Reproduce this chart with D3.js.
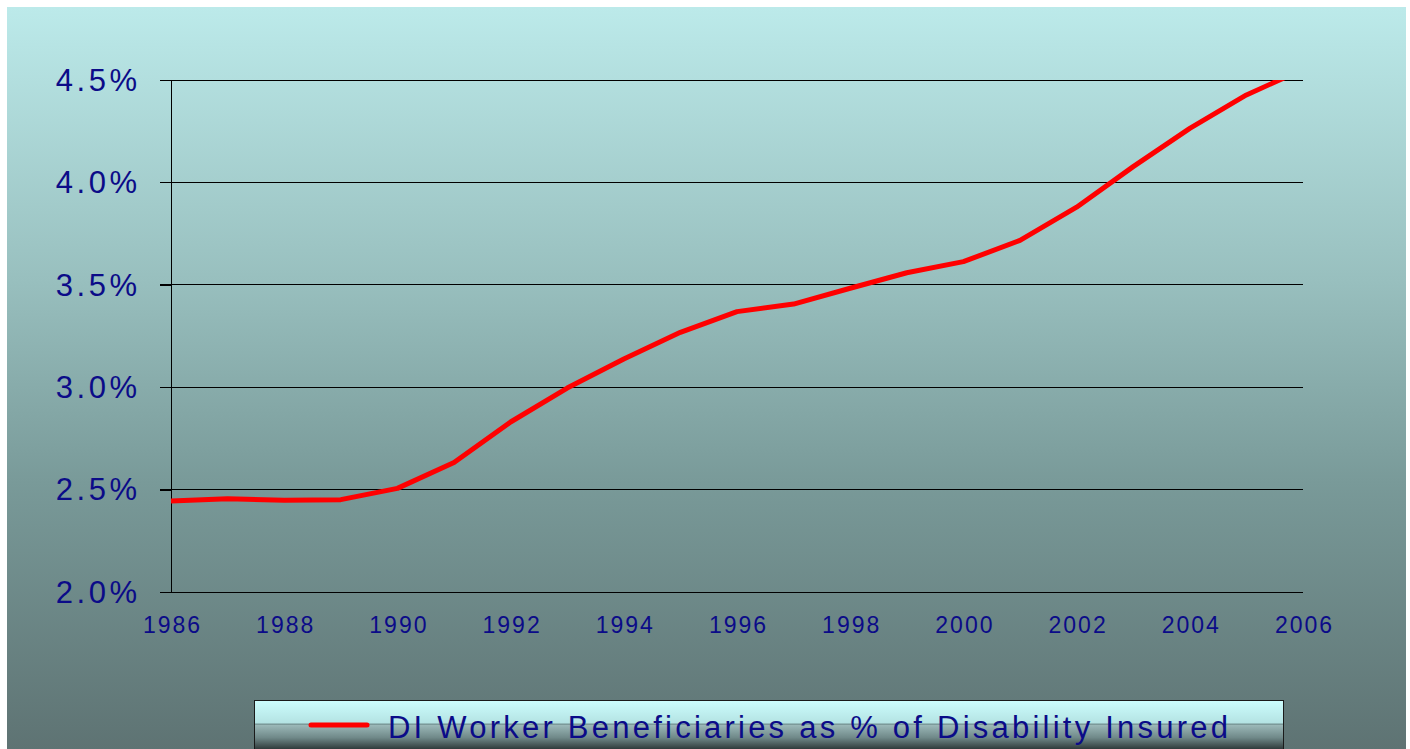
<!DOCTYPE html>
<html>
<head>
<meta charset="utf-8">
<script src="https://cdn.jsdelivr.net/npm/d3@7/dist/d3.min.js"></script>
<style>
  html, body { margin: 0; padding: 0; background: #ffffff; }
  svg { display: block; }
  text { font-family: "Liberation Sans", Arial, sans-serif; }
</style>
</head>
<body>
<svg id="chart" width="1410" height="749"></svg>
<script>
// ---- data ----
const years = [1986, 1987, 1988, 1989, 1990, 1991, 1992, 1993, 1994, 1995, 1996,
               1997, 1998, 1999, 2000, 2001, 2002, 2003, 2004, 2005, 2006];
const diShare = [2.444, 2.455, 2.448, 2.451, 2.506, 2.632, 2.830, 2.996, 3.138, 3.268, 3.369,
                 3.406, 3.483, 3.559, 3.613, 3.717, 3.879, 4.077, 4.264, 4.427, 4.552];
const yTicks = [2.0, 2.5, 3.0, 3.5, 4.0, 4.5];
const xTicks = [1986, 1988, 1990, 1992, 1994, 1996, 1998, 2000, 2002, 2004, 2006];
const seriesName = "DI Worker Beneficiaries as % of Disability Insured";

// ---- layout ----
const svg = d3.select("#chart");
const plot = { left: 171, right: 1303, top: 80, bottom: 592 };
const textColor = "#0b0b88";

const defs = svg.append("defs");
const bg = defs.append("linearGradient").attr("id", "bgGrad")
  .attr("gradientUnits", "userSpaceOnUse").attr("x1", 0).attr("y1", 7).attr("x2", 0).attr("y2", 749);
bg.append("stop").attr("offset", "0").attr("stop-color", "#bceaea");
bg.append("stop").attr("offset", "0.37").attr("stop-color", "#98bfbe");
bg.append("stop").attr("offset", "0.64").attr("stop-color", "#799a99");
bg.append("stop").attr("offset", "1").attr("stop-color", "#5e7373");

const lg = defs.append("linearGradient").attr("id", "legGrad")
  .attr("gradientUnits", "userSpaceOnUse").attr("x1", 0).attr("y1", 701).attr("x2", 0).attr("y2", 750);
lg.append("stop").attr("offset", "0").attr("stop-color", "#ccfdfd");
lg.append("stop").attr("offset", "0.45").attr("stop-color", "#b4e3e3");
lg.append("stop").attr("offset", "0.47").attr("stop-color", "#6e8c8c");
lg.append("stop").attr("offset", "0.50").attr("stop-color", "#9ab7b7");
lg.append("stop").attr("offset", "0.75").attr("stop-color", "#6f8888");
lg.append("stop").attr("offset", "1").attr("stop-color", "#2a3434");

defs.append("clipPath").attr("id", "plotClip").append("rect")
  .attr("x", plot.left).attr("y", plot.top)
  .attr("width", plot.right - plot.left).attr("height", plot.bottom - plot.top);

svg.append("rect").attr("x", 7).attr("y", 7).attr("width", 1399).attr("height", 760)
  .attr("fill", "url(#bgGrad)");

// ---- scales ----
const x = d3.scaleLinear().domain([1986, 2006]).range([plot.left, plot.right]);
const y = d3.scaleLinear().domain([2.0, 4.5]).range([plot.bottom, plot.top]);

// gridlines
svg.append("g").selectAll("line").data(yTicks).join("line")
  .attr("x1", plot.left - 11).attr("x2", plot.right)
  .attr("y1", d => y(d)).attr("y2", d => y(d))
  .attr("stroke", "#000").attr("stroke-width", 1).attr("shape-rendering", "crispEdges");

// y axis
const yAxis = svg.append("g").attr("transform", `translate(${plot.left},0)`)
  .call(d3.axisLeft(y).tickValues(yTicks).tickSizeInner(11).tickSizeOuter(0)
    .tickFormat(d => d.toFixed(1) + "%"));
yAxis.select(".domain").attr("stroke", "#000").attr("shape-rendering", "crispEdges");
yAxis.selectAll(".tick line").attr("stroke", "#000").attr("shape-rendering", "crispEdges");
yAxis.selectAll(".tick text")
  .attr("x", -30.5).attr("dy", "0.33em")
  .attr("fill", textColor).attr("font-size", "31px")
  .style("letter-spacing", "3.5px").attr("font-family", "Liberation Sans, Arial, sans-serif");

// x axis
const xAxis = svg.append("g").attr("transform", `translate(0,${plot.bottom})`)
  .call(d3.axisBottom(x).tickValues(xTicks).tickSize(0).tickPadding(25).tickFormat(d3.format("d")));
xAxis.select(".domain").remove();
xAxis.selectAll(".tick text")
  .attr("dx", 1)
  .attr("fill", textColor).attr("font-size", "23px")
  .style("letter-spacing", "2px").attr("font-family", "Liberation Sans, Arial, sans-serif");

// line
const line = d3.line().x((d, i) => x(years[i])).y(d => y(d));
svg.append("path").datum(diShare)
  .attr("clip-path", "url(#plotClip)")
  .attr("d", line).attr("fill", "none")
  .attr("stroke", "#ff0000").attr("stroke-width", 5).attr("stroke-linejoin", "round");

// legend
const leg = svg.append("g");
leg.append("rect").attr("x", 254.5).attr("y", 700.5).attr("width", 1029).attr("height", 60)
  .attr("fill", "url(#legGrad)").attr("stroke", "#1a1a1a").attr("stroke-width", 1);
leg.append("line").attr("x1", 311).attr("x2", 367).attr("y1", 725).attr("y2", 725)
  .attr("stroke", "#ff0000").attr("stroke-width", 5).attr("stroke-linecap", "round");
leg.append("text").attr("x", 388).attr("y", 738)
  .attr("fill", textColor).attr("font-size", "31px")
  .attr("textLength", 840).attr("lengthAdjust", "spacing")
  .text(seriesName);
</script>
</body>
</html>
